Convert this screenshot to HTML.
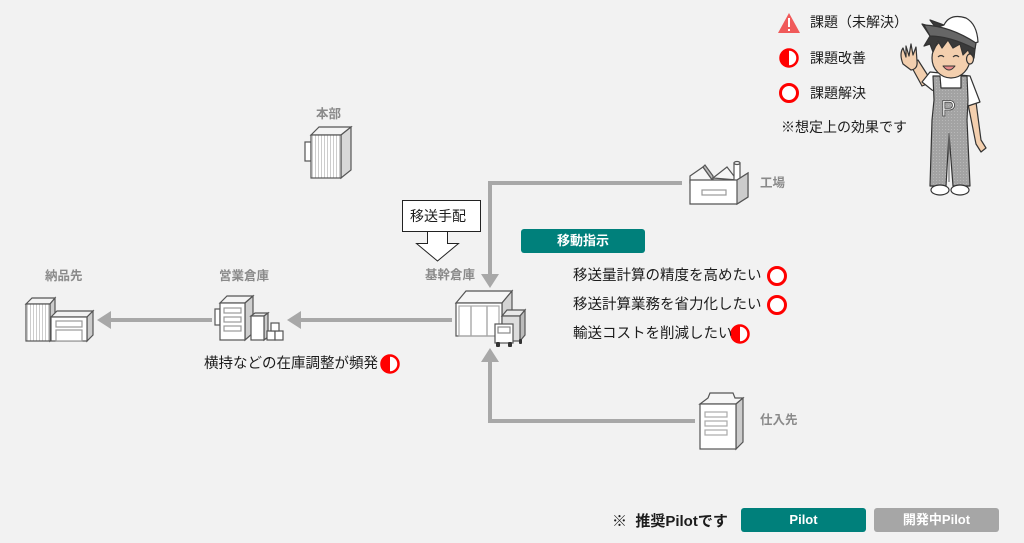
<!DOCTYPE html>
<html><head><meta charset="utf-8">
<style>
html,body{margin:0;padding:0;}
body{width:1024px;height:543px;background:#f2f2f2;position:relative;overflow:hidden;font-family:"Liberation Sans","Noto Sans CJK JP",sans-serif;}
.t{position:absolute;white-space:nowrap;line-height:20px;height:20px;}
.lbl{color:#8a8a8a;font-weight:bold;font-size:12.5px;}
.main{color:#1c1c1c;font-size:14.5px;}
.leg{color:#1c1c1c;font-size:14px;}
svg{position:absolute;left:0;top:0;}
.btn{position:absolute;color:#fff;font-weight:bold;font-size:13px;text-align:center;border-radius:3px;line-height:24px;height:24px;}
</style></head><body>
<svg width="1024" height="543" viewBox="0 0 1024 543">
<defs>
<pattern id="hatch" width="3" height="3" patternUnits="userSpaceOnUse"><rect width="3" height="3" fill="#fff"/><rect width="1" height="3" fill="#ccc"/></pattern>
<pattern id="dots" width="3" height="3" patternUnits="userSpaceOnUse"><rect width="3" height="3" fill="#a3a3a3"/><rect width="1" height="1" fill="#b8b8b8"/></pattern>
</defs>
<!-- connectors -->
<g stroke="#a8a8a8" stroke-width="4" fill="none">
<polyline points="682,183 490,183 490,274"/>
<polyline points="695,421 490,421 490,362"/>
<line x1="452" y1="320" x2="300" y2="320"/>
<line x1="212" y1="320" x2="110" y2="320"/>
</g>
<g fill="#a8a8a8">
<polygon points="481,274 499,274 490,288"/>
<polygon points="481,362 499,362 490,348"/>
<polygon points="301,311 301,329 287,320"/>
<polygon points="111,311 111,329 97,320"/>
</g>
<!-- 移送手配 box and arrow -->
<rect x="402.5" y="200.5" width="78" height="31" fill="#fff" stroke="#222" stroke-width="1"/>
<polygon points="427.5,231.5 447.5,231.5 447.5,243.5 458.5,243.5 437.5,261 416.5,243.5 427.5,243.5" fill="#fff" stroke="#222" stroke-width="1"/>
<!-- 本部 building -->
<g stroke="#555" stroke-width="1.2">
<rect x="305" y="142" width="6" height="19" fill="#fff"/>
<polygon points="311,135 319,127 351,127 341,135" fill="#f4f4f4"/>
<polygon points="341,135 351,127 351,170 341,178" fill="#d8d8d8"/>
<rect x="311" y="135" width="30" height="43" fill="url(#hatch)"/>
</g>
<!-- 基幹倉庫 warehouse + truck -->
<g stroke="#555" stroke-width="1.2">
<polygon points="456,303 466,291 512,291 502,303" fill="#f6f6f6"/>
<polygon points="502,303 512,291 512,324 502,336" fill="#d4d4d4"/>
<rect x="456" y="303" width="46" height="33" fill="#fff"/>
<line x1="471" y1="306" x2="471" y2="336" stroke="#999"/>
<line x1="487" y1="306" x2="487" y2="336" stroke="#999"/>
<rect x="459" y="306" width="40" height="30" fill="none" stroke="#aaa"/>
<polygon points="502,316 507,310 525,310 520,316" fill="#e8e8e8"/>
<polygon points="520,316 525,310 525,335 520,341" fill="#bbb"/>
<rect x="502" y="316" width="18" height="25" fill="#ddd"/>
<rect x="495" y="324" width="18" height="19" fill="#fff"/>
<rect x="498" y="327" width="12" height="6" fill="#fff" stroke="#888"/>
</g>
<g fill="#333"><rect x="496" y="342" width="4" height="5" rx="1"/><rect x="508" y="342" width="4" height="5" rx="1"/><rect x="519" y="339" width="3" height="5" rx="1"/></g>
<!-- 営業倉庫 -->
<g stroke="#555" stroke-width="1.2">
<rect x="215" y="309" width="5" height="16" fill="#fff"/>
<polygon points="220,303 227,296 253,296 245,303" fill="#f4f4f4"/>
<polygon points="245,303 253,296 253,333 245,340" fill="#cfcfcf"/>
<rect x="220" y="303" width="25" height="37" fill="#fff"/>
<rect x="224" y="308" width="17" height="5" fill="#fff" stroke="#999"/>
<rect x="224" y="317" width="17" height="5" fill="#fff" stroke="#999"/>
<rect x="224" y="326" width="17" height="5" fill="#fff" stroke="#999"/>
<polygon points="251,316 255,313 268,313 264,316" fill="#eee"/>
<polygon points="264,316 268,313 268,337 264,340" fill="#ccc"/>
<rect x="251" y="316" width="13" height="24" fill="#fff"/>
<rect x="267" y="331" width="8" height="9" fill="#fff"/>
<rect x="275" y="331" width="8" height="9" fill="#fff"/>
<rect x="271" y="323" width="8" height="8" fill="#fff"/>
</g>
<!-- 納品先 -->
<g stroke="#555" stroke-width="1.2">
<polygon points="26,304 32,298 55,298 50,304" fill="#f4f4f4"/>
<polygon points="50,304 55,298 55,336 50,341" fill="#ccc"/>
<rect x="26" y="304" width="24" height="37" fill="url(#hatch)"/>
<polygon points="51,317 57,311 93,311 87,317" fill="#f2f2f2"/>
<polygon points="87,317 93,311 93,335 87,341" fill="#ccc"/>
<rect x="51" y="317" width="36" height="24" fill="#fff"/>
<rect x="56" y="321" width="26" height="6" fill="#fff" stroke="#999"/>
<rect x="56" y="330" width="26" height="11" fill="#fff" stroke="#999"/>
</g>
<!-- 工場 factory -->
<g stroke="#555" stroke-width="1.2">
<polygon points="690,176 703,167 713,181 713,181 690,183" fill="#f6f6f6"/>
<polygon points="703,167 713,181 713,176 705,165" fill="#bbb"/>
<polygon points="713,178 727,167 737,180" fill="#f6f6f6"/>
<rect x="734" y="163" width="6" height="18" fill="#fff"/>
<ellipse cx="737" cy="163" rx="3" ry="1.5" fill="#fff"/>
<polygon points="690,180 737,180 748,173 748,197 737,204 690,204" fill="#fff"/>
<polygon points="737,180 748,173 748,197 737,204" fill="#ccc"/>
<rect x="702" y="190" width="24" height="5" fill="#fff" stroke="#999"/>
</g>
<!-- 仕入先 -->
<g stroke="#555" stroke-width="1.2">
<polygon points="710,393 733,393 735,398 743,398 736,404 700,404 708,398" fill="#f6f6f6"/>
<polygon points="736,404 743,398 743,442 736,449" fill="#ccc"/>
<rect x="700" y="404" width="36" height="45" fill="#fff"/>
<rect x="705" y="412" width="22" height="5" fill="#fff" stroke="#aaa"/>
<rect x="705" y="421" width="22" height="5" fill="#fff" stroke="#aaa"/>
<rect x="705" y="430" width="22" height="5" fill="#fff" stroke="#aaa"/>
</g>
<!-- status icons -->
<g>
<polygon points="789,13 800,33 778,33" fill="#f05a5a"/>
<rect x="788" y="18" width="2" height="9" fill="#fff"/><rect x="788" y="29" width="2" height="2" fill="#fff"/>
<circle cx="789" cy="58" r="8.5" fill="#fff" stroke="#f00" stroke-width="2.5"/>
<path d="M789,49.5 A8.5,8.5 0 0 0 789,66.5 Z" fill="#f00"/>
<circle cx="789" cy="93" r="8.5" fill="#fff" stroke="#f00" stroke-width="3"/>
<circle cx="777" cy="276" r="8.5" fill="#fff" stroke="#f00" stroke-width="3"/>
<circle cx="777" cy="305" r="8.5" fill="#fff" stroke="#f00" stroke-width="3"/>
<circle cx="740" cy="334" r="8.5" fill="#fff" stroke="#f00" stroke-width="2.5"/>
<path d="M740,325.5 A8.5,8.5 0 0 0 740,342.5 Z" fill="#f00"/>
<circle cx="390" cy="364" r="8.5" fill="#fff" stroke="#f00" stroke-width="2.5"/>
<path d="M390,355.5 A8.5,8.5 0 0 0 390,372.5 Z" fill="#f00"/>
</g>
<!-- character -->
<g stroke="#333" stroke-width="1.2" stroke-linejoin="round">
<!-- raised arm -->
<path d="M910,64 L922,86 L932,82 L918,60 Z" fill="#f3cfae"/>
<path d="M903,64 Q899,54 903,48 L906,57 L906,46 L909,56 L911,44 L913,55 L916,47 L917,61 Q918,69 911,70 Z" fill="#f3cfae"/>
<!-- right arm -->
<path d="M976,102 L981,140 L986,148 L981,152 L976,144 L968,104 Z" fill="#f3cfae"/>
<!-- shirt -->
<path d="M922,82 L930,72 L970,76 L980,102 L968,106 L966,92 L936,92 L932,90 Z" fill="#fff"/>
<!-- overalls -->
<path d="M933,76 L940,76 L941,88 L961,88 L961,76 L967,76 L968,100 L967,120 L970,186 L953,186 L949,134 L946,186 L930,186 L932,120 L934,100 Z" fill="url(#dots)"/>
<line x1="949" y1="134" x2="949" y2="182" stroke="#777"/>
<!-- shoes -->
<ellipse cx="940" cy="190" rx="9" ry="5" fill="#fff"/>
<ellipse cx="960" cy="190" rx="9" ry="5" fill="#fff"/>
<!-- head -->
<ellipse cx="951" cy="58" rx="19" ry="20" fill="#f3cfae"/>
<ellipse cx="970" cy="59" rx="3.5" ry="5" fill="#f3cfae"/>
<!-- hair -->
<path d="M922,24 L936,28 L930,20 L952,28 L976,40 L974,58 L968,50 L963,55 L960,44 L953,48 L948,40 L942,48 L938,41 L933,52 L930,44 L924,46 L930,36 Z" fill="#3a3a3a"/>
<!-- cap -->
<path d="M935,28 L972,44 L978,42 Q977,24 966,18 Q950,13 944,25 Z" fill="#fff"/>
<path d="M924,25 Q950,26 976,43 L975,49 Q950,36 930,36 Z" fill="#666"/>
<!-- face -->
<path d="M938,57 Q941,54 944,57 M953,57 Q956,54 959,57" fill="none"/>
<path d="M943,66 Q949,74 955,66 Z" fill="#e98a8a" stroke-width="1"/>
</g>
<text x="941" y="116" font-family="Liberation Sans,sans-serif" font-size="22" fill="#fff" stroke="#444" stroke-width="0.8">P</text>
</svg>

<!-- labels -->
<div class="t lbl" style="left:316px;top:104px;">本部</div>
<div class="t lbl" style="left:760px;top:173px;">工場</div>
<div class="t lbl" style="left:45px;top:266px;">納品先</div>
<div class="t lbl" style="left:219px;top:266px;">営業倉庫</div>
<div class="t lbl" style="left:425px;top:265px;">基幹倉庫</div>
<div class="t lbl" style="left:760px;top:410px;">仕入先</div>

<div class="t main" style="left:410px;top:206px;font-size:14px;">移送手配</div>

<div class="btn" style="left:521px;top:229px;width:124px;background:#00807b;">移動指示</div>

<div class="t main" style="left:573px;top:266px;">移送量計算の精度を高めたい</div>
<div class="t main" style="left:573px;top:295px;">移送計算業務を省力化したい</div>
<div class="t main" style="left:573px;top:324px;">輸送コストを削減したい</div>
<div class="t main" style="left:204px;top:354px;">横持などの在庫調整が頻発</div>

<div class="t leg" style="left:810px;top:12px;">課題（未解決）</div>
<div class="t leg" style="left:810px;top:48px;">課題改善</div>
<div class="t leg" style="left:810px;top:83px;">課題解決</div>
<div class="t leg" style="left:781px;top:117px;">※想定上の効果です</div>

<div class="t main" style="left:612px;top:512px;font-size:15px;font-weight:bold;">※&nbsp; 推奨Pilotです</div>
<div class="btn" style="left:741px;top:508px;width:125px;background:#00807b;">Pilot</div>
<div class="btn" style="left:874px;top:508px;width:125px;background:#a6a6a6;">開発中Pilot</div>
</body></html>
